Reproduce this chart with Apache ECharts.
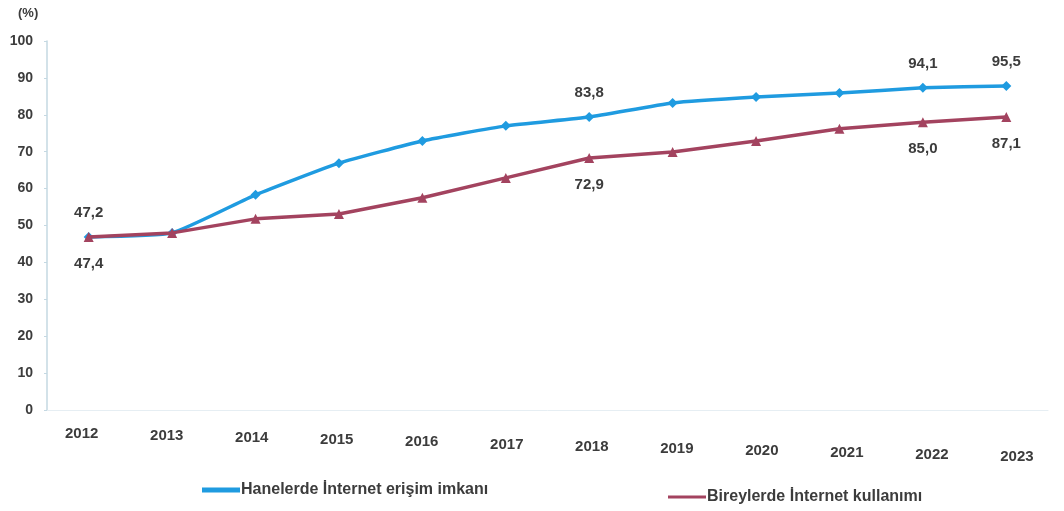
<!DOCTYPE html>
<html>
<head>
<meta charset="utf-8">
<script src="https://cdn.jsdelivr.net/npm/echarts@6/dist/echarts.min.js"></script>
<style>
html,body{margin:0;padding:0;background:#fff;}
#c{width:1064px;height:511px;}
</style>
</head>
<body>
<div id="c"></div>
<script>
const years = ['2012','2013','2014','2015','2016','2017','2018','2019','2020','2021','2022','2023'];
const householdAccess = [46.9, 48.0, 58.3, 66.9, 72.9, 77.0, 79.4, 83.2, 84.8, 85.9, 87.3, 87.8];
const individualUse   = [46.9, 48.0, 51.8, 53.1, 57.5, 62.9, 68.3, 69.9, 72.9, 76.2, 78.0, 79.4];
const householdLabels = ['47,2','','','','','','83,8','','','','94,1','95,5'];
const individualLabels = ['47,4','','','','','','72,9','','','','85,0','87,1'];
const yTicks = [0,10,20,30,40,50,60,70,80,90,100];
const seriesNames = ['Hanelerde İnternet erişim imkanı', 'Bireylerde İnternet kullanımı'];

const txt = '#3c3c3c';
const FONT = 'Liberation Sans, Arial, sans-serif';

function withLabels(vals, labels, pos, dist) {
  return vals.map((v, i) => labels[i] ? {
    value: v,
    label: {show: true, position: pos, distance: dist, formatter: labels[i],
            color: txt, fontSize: 15, fontWeight: 'bold', fontFamily: FONT}
  } : v);
}

// slight scan tilt of the category labels
const rich = {};
years.forEach((y, i) => {
  const dy = Math.round(i * 2.1);
  const dx = -7 + 1.6 * i;
  rich['t' + i] = {
    color: txt, fontSize: 15, fontWeight: 'bold', fontFamily: FONT,
    padding: [dy, dx > 0 ? 0 : -2 * dx, 0, dx > 0 ? 2 * dx : 0]
  };
});

const chart = echarts.init(document.getElementById('c'));
chart.setOption({
  animation: false,
  backgroundColor: '#fff',
  grid: {left: 47, right: 16, top: 41, bottom: 101, containLabel: false},
  graphic: [{
    type: 'text', left: 18, top: 7,
    style: {text: '(%)', fill: txt, font: 'bold 13px ' + FONT}
  }],
  legend: [{
    data: [seriesNames[0]], left: 197, top: 477,
    icon: 'rect', itemWidth: 38, itemHeight: 5, itemGap: 2,
    textStyle: {color: txt, fontSize: 16, fontWeight: 'bold', fontFamily: FONT, padding: [0,0,0,-4]}
  }, {
    data: [seriesNames[1]], left: 663, top: 484,
    icon: 'rect', itemWidth: 38, itemHeight: 3, itemGap: 2,
    textStyle: {color: txt, fontSize: 16, fontWeight: 'bold', fontFamily: FONT, padding: [0,0,0,-4]}
  }],
  xAxis: {
    type: 'category', data: years, boundaryGap: true,
    axisLine: {show: true, lineStyle: {color: '#e6eef3', width: 1}},
    axisTick: {show: false},
    axisLabel: {
      margin: 16, interval: 0,
      formatter: (v, i) => '{t' + i + '|' + v + '}',
      rich: rich
    }
  },
  yAxis: {
    type: 'value', min: yTicks[0], max: yTicks[yTicks.length - 1], interval: 10,
    axisLine: {show: true, lineStyle: {color: '#c4d8e2', width: 1.5}},
    axisTick: {show: true, length: 3, lineStyle: {color: '#c4d8e2'}},
    splitLine: {show: false},
    axisLabel: {color: txt, fontSize: 14, fontWeight: 'bold', fontFamily: FONT, margin: 14}
  },
  series: [{
    name: seriesNames[0], type: 'line',
    data: withLabels(householdAccess, householdLabels, 'top', 12),
    symbol: 'diamond', symbolSize: 10, smooth: 0.15,
    lineStyle: {color: '#1f9be0', width: 3.5},
    itemStyle: {color: '#1f9be0'},
    z: 2
  }, {
    name: seriesNames[1], type: 'line',
    data: withLabels(individualUse, individualLabels, 'bottom', 14),
    symbol: 'triangle', symbolSize: 10,
    lineStyle: {color: '#a3435f', width: 3.5},
    itemStyle: {color: '#a3435f'},
    z: 3
  }]
});
</script>
</body>
</html>
